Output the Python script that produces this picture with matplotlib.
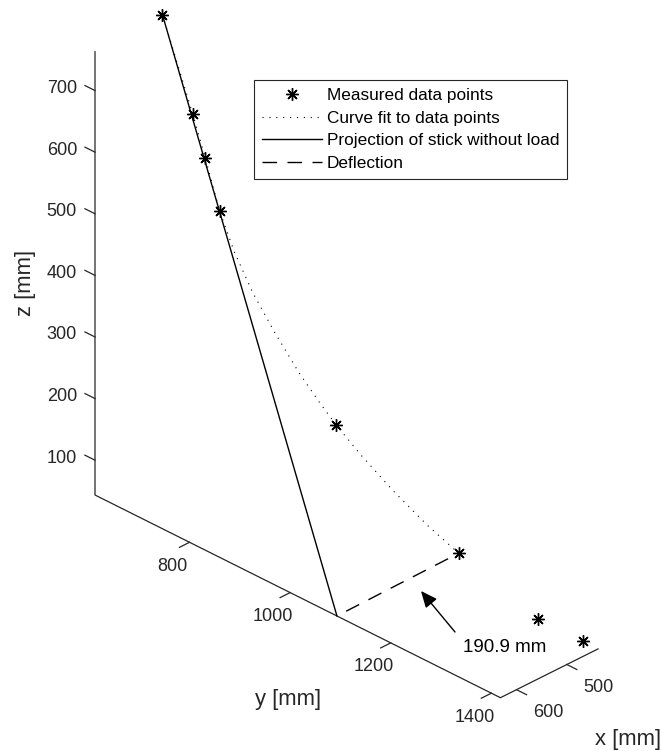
"""Stick deflection, 3-D view (MATLAB style axes)."""
import matplotlib.pyplot as plt
import numpy as np
from matplotlib.lines import Line2D
from mpl_toolkits.mplot3d import proj3d

plt.rcParams['font.family'] = ['Liberation Sans', 'DejaVu Sans']

W, H = 662, 751
GRAY = '#262626'

# measured points on the stick [mm]
meas_x = [496, 517, 527, 540, 535, 480, 438, 438]
meas_y = [610, 691, 726, 768, 994, 1183, 1299, 1389]
meas_z = [767, 648, 595, 530, 274, 120, 44, 44]

# curve fit through the measured points [mm]
fit_x = [496, 517, 527, 540, 547, 549, 548, 545, 540, 535, 526, 513, 496, 480]
fit_y = [610, 691, 726, 768, 804, 842, 885, 930, 966, 994, 1034, 1084, 1137, 1183]
fit_z = [767, 648, 595, 530, 482, 433, 385, 337, 301, 274, 238, 196, 153, 120]

# stick without load and deflection [mm]
proj_x, proj_y, proj_z = [496, 632], [610, 1093], [767, 43.5]
defl_x, defl_y, defl_z = [632, 480], [1093, 1183], [43.5, 120]

x_lim = (438, 632)
y_lim = (612, 1418)
z_lim = (43.5, 763)
x_ticks = [500, 600]
y_ticks = [800, 1000, 1200, 1400]
z_ticks = [100, 200, 300, 400, 500, 600, 700]

legend_labels = ['Measured data points', 'Curve fit to data points',
                 'Projection of stick without load', 'Deflection']
deflection_label = '190.9 mm'

fig = plt.figure(figsize=(W / 100, H / 100), dpi=100)
ax = fig.add_axes([0, 0, 1, 1], projection='3d', proj_type='ortho')
ax.set_axis_off()
ax.view_init(elev=30, azim=45)
ax.set_xlim(*x_lim)
ax.set_ylim(*y_lim)
ax.set_zlim(*z_lim)
ax.set_box_aspect(np.ptp([x_lim, y_lim, z_lim], axis=1))

x0, x1 = x_lim
y0, y1 = y_lim
z0, z1 = z_lim

# box edges: z axis, y axis, x axis
frame, = ax.plot([x1, x1, x1, x0], [y0, y0, y1, y1], [z1, z0, z0, z0],
                 color=GRAY, lw=0.9)
tl = 20  # tick length in mm
for t in y_ticks:
    ax.plot([x1, x1 + tl], [t, t], [z0, z0], color=GRAY, lw=0.9)
for t in x_ticks:
    ax.plot([t, t], [y1, y1 + tl], [z0, z0], color=GRAY, lw=0.9)
for t in z_ticks:
    ax.plot([x1, x1], [y0, y0 - tl], [t, t], color=GRAY, lw=0.9)

meas, = ax.plot(meas_x, meas_y, meas_z, ls='none', marker=(8, 2, 0),
                ms=9, mew=1, color='k')
fit, = ax.plot(fit_x, fit_y, fit_z, ls=(0, (1, 5.2)), lw=0.8, color='k')
proj, = ax.plot(proj_x, proj_y, proj_z, lw=1, color='k')
ax.plot(defl_x, defl_y, defl_z, ls=(10.5, (10.5, 7.5)), lw=1, color='k')

# scale/shift the (square) axes so the box lands where it should
fig.canvas.draw()
pts = frame.get_transform().transform(frame.get_xydata())
pos = ax.get_position()
n = (pts - [pos.x0 * W, pos.y0 * H]) / (pos.width * W)
a_px, b_px = np.array([95, H - 495]), np.array([598, H - 648])
side = (b_px[0] - a_px[0]) / (n[3, 0] - n[1, 0])
left, bottom = a_px - side * n[1]
ax.set_position([left / W, bottom / H, side / W, side / H])


def to2d(x, y, z):
    xs, ys, _ = proj3d.proj_transform(x, y, z, ax.get_proj())
    return xs, ys


tick_kw = dict(textcoords='offset pixels', color=GRAY, fontsize=13,
               annotation_clip=False)
for t in y_ticks:
    ax.annotate(f'{t}', to2d(x1, t, z0), xytext=(-17, -24),
                ha='center', va='center', **tick_kw)
for t in x_ticks:
    ax.annotate(f'{t}', to2d(t, y1, z0), xytext=(32, -23),
                ha='center', va='center', **tick_kw)
for t in z_ticks:
    ax.annotate(f'{t}', to2d(x1, y0, t), xytext=(-18, 2),
                ha='right', va='center', **tick_kw)

lab_kw = dict(color=GRAY, fontsize=15.8, ha='center', va='center')
fig.text(25 / W, 1 - 283 / H, 'z [mm]', rotation=90, **lab_kw)
fig.text(288 / W, 1 - 700 / H, 'y [mm]', **lab_kw)
fig.text(628 / W, 1 - 739 / H, 'x [mm]', **lab_kw)

# deflection annotation
fig.text(463 / W, 1 - 647 / H, deflection_label, ha='left', va='center',
         fontsize=13.5, color='k')
ax.annotate('', xy=(421, H - 591), xycoords='figure pixels',
            xytext=(455, H - 632), textcoords='figure pixels',
            arrowprops=dict(arrowstyle='-|>,head_length=0.5,head_width=0.22',
                            mutation_scale=20, color='k', lw=1,
                            shrinkA=0, shrinkB=0),
            annotation_clip=False)

defl_key = Line2D([], [], color='k', lw=1, ls=(0, (10.5, 7.5)))
leg = fig.legend([meas, fit, proj, defl_key], legend_labels, loc='upper left',
                 bbox_to_anchor=(254 / W, 1 - 80 / H), borderaxespad=0,
                 fontsize=12.4, fancybox=False, framealpha=1,
                 edgecolor=GRAY, borderpad=0.45, labelspacing=0.45,
                 handlelength=3.48, handletextpad=0.3, numpoints=1)
leg.get_frame().set_linewidth(0.8)

fig.savefig('out.png', dpi=100)
